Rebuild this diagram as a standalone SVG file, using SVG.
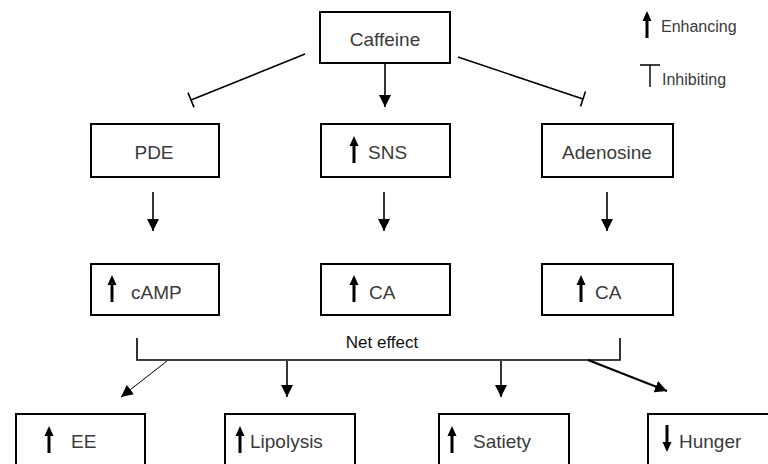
<svg xmlns="http://www.w3.org/2000/svg" xmlns:xlink="http://www.w3.org/1999/xlink" width="768" height="464" viewBox="0 0 768 464">
<style>
.box{fill:#fff;stroke:#000;stroke-width:2}
.t{font-family:"Liberation Sans",Arial,sans-serif;font-size:19px;fill:#3a3a3a}
.tc{text-anchor:middle}
.lg{font-family:"Liberation Sans",Arial,sans-serif;font-size:16px;fill:#3a3a3a}
.ne{font-family:"Liberation Sans",Arial,sans-serif;font-size:17px;fill:#111;text-anchor:middle}
.c{fill:none;stroke:#000;stroke-width:1.6}
</style>
<defs>
<marker id="ah" markerUnits="userSpaceOnUse" markerWidth="12" markerHeight="12" viewBox="0 0 12 12" refX="12" refY="6" orient="auto">
<path d="M0,0 L12,6 L0,12 Z" fill="#000"/>
</marker>
<g id="up"><path d="M-4.5,10 L0,0 L4.5,10 Z" fill="#000"/><rect x="-1.5" y="9" width="3" height="18" fill="#000"/></g>
<g id="down"><path d="M-4.5,17 L0,27 L4.5,17 Z" fill="#000"/><rect x="-1.5" y="0" width="3" height="18" fill="#000"/></g>
</defs>
<rect width="768" height="464" fill="#fff"/>

<g id="legend">
<use xlink:href="#up" x="647" y="11"/>
<text class="lg" x="661" y="32">Enhancing</text>
<path d="M640,65 H660 M650,65 V87" stroke="#000" stroke-width="1.4" fill="none"/>
<text class="lg" x="662" y="85">Inhibiting</text>
</g>

<g id="connectors">
<line class="c" x1="305" y1="54" x2="191" y2="100"/>
<line class="c" x1="188" y1="92.6" x2="194" y2="107.4"/>
<line class="c" x1="458" y1="57" x2="583" y2="99"/>
<line class="c" x1="585.5" y1="91.4" x2="580.5" y2="106.6"/>
<line class="c" x1="385" y1="63" x2="385" y2="107" marker-end="url(#ah)"/>
<line class="c" x1="153" y1="192" x2="153" y2="231" marker-end="url(#ah)"/>
<line class="c" x1="384" y1="192" x2="384" y2="231" marker-end="url(#ah)"/>
<line class="c" x1="607" y1="192" x2="607" y2="231" marker-end="url(#ah)"/>
<path class="c" d="M137,338 V360 H620 V338"/>
<line x1="167" y1="361" x2="121" y2="397" stroke="#000" stroke-width="1" marker-end="url(#ah)"/>
<line class="c" x1="287" y1="361" x2="287" y2="397" marker-end="url(#ah)"/>
<line class="c" x1="501" y1="361" x2="501" y2="397" marker-end="url(#ah)"/>
<line x1="588" y1="360" x2="667" y2="391" stroke="#000" stroke-width="2.2" marker-end="url(#ah)"/>
<text class="ne" x="382" y="348">Net effect</text>
</g>

<g id="caffeine">
<rect class="box" x="320" y="12" width="130" height="51"/>
<text class="t tc" x="385" y="46">Caffeine</text>
</g>

<g id="pde">
<rect class="box" x="91" y="124" width="128" height="53"/>
<text class="t tc" x="154" y="159">PDE</text>
</g>
<g id="sns">
<rect class="box" x="321" y="124" width="129" height="53"/>
<use xlink:href="#up" x="354" y="136"/>
<text class="t" x="368" y="159">SNS</text>
</g>
<g id="adenosine">
<rect class="box" x="542" y="124" width="131" height="53"/>
<text class="t tc" x="607" y="159">Adenosine</text>
</g>

<g id="camp">
<rect class="box" x="91" y="264" width="128" height="51"/>
<use xlink:href="#up" x="112" y="275"/>
<text class="t" x="131" y="299">cAMP</text>
</g>
<g id="ca1">
<rect class="box" x="321" y="264" width="129" height="51"/>
<use xlink:href="#up" x="354" y="275"/>
<text class="t" x="369" y="299">CA</text>
</g>
<g id="ca2">
<rect class="box" x="542" y="264" width="131" height="51"/>
<use xlink:href="#up" x="581" y="275"/>
<text class="t" x="595" y="299">CA</text>
</g>

<g id="ee">
<rect class="box" x="16" y="414" width="129" height="60"/>
<use xlink:href="#up" x="49" y="426"/>
<text class="t" x="71" y="448">EE</text>
</g>
<g id="lipolysis">
<rect class="box" x="225" y="414" width="130" height="60"/>
<use xlink:href="#up" x="240" y="426"/>
<text class="t" x="250" y="448">Lipolysis</text>
</g>
<g id="satiety">
<rect class="box" x="439" y="414" width="130" height="60"/>
<use xlink:href="#up" x="452" y="426"/>
<text class="t" x="473" y="448">Satiety</text>
</g>
<g id="hunger">
<rect class="box" x="648" y="414" width="130" height="60"/>
<use xlink:href="#down" x="667" y="425"/>
<text class="t" x="679" y="448">Hunger</text>
</g>
</svg>
